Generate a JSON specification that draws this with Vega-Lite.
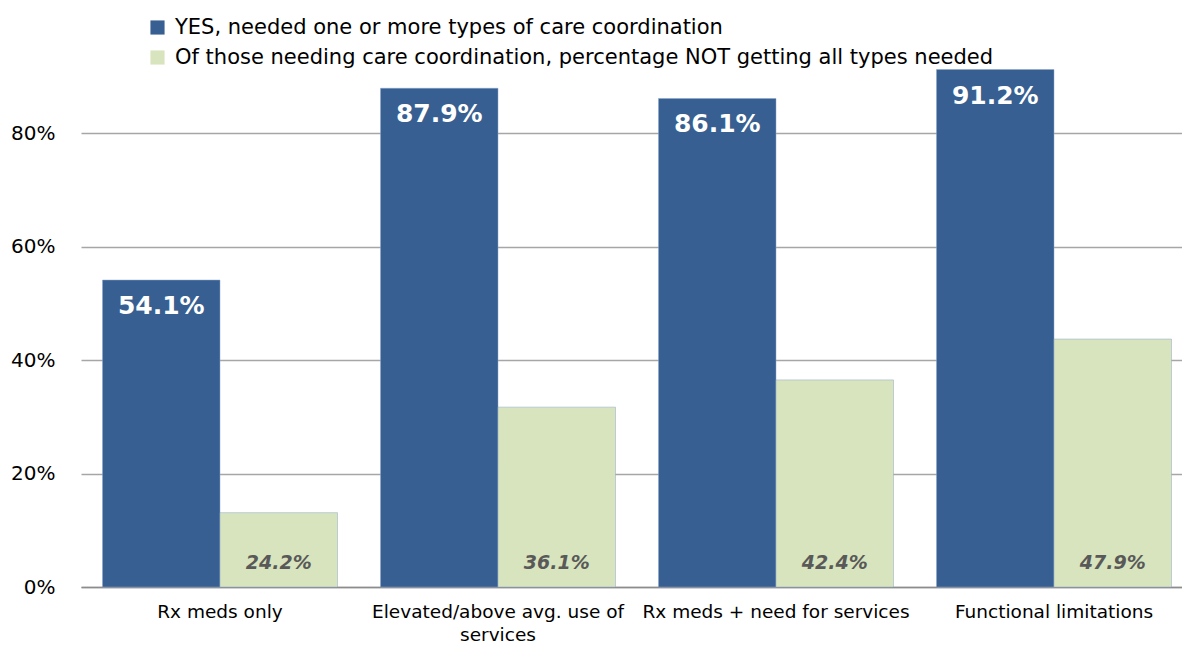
{
  "$schema": "https://vega.github.io/schema/vega-lite/v6.json",
  "width": 1101,
  "height": 522,
  "autosize": "none",
  "padding": {"left": 81, "top": 65, "right": 0, "bottom": 58},
  "background": "white",
  "config": {
    "view": {"stroke": null},
    "font": "DejaVu Sans"
  },
  "data": {
    "values": [
      {"category": "Rx meds only", "series": "YES, needed one or more types of care  coordination", "value": 0.541, "label": "54.1%"},
      {"category": "Rx meds only", "series": "Of those needing care coordination, percentage NOT getting all types needed", "value": 0.131, "label": "24.2%"},
      {"category": "Elevated/above avg. use of services", "series": "YES, needed one or more types of care  coordination", "value": 0.879, "label": "87.9%"},
      {"category": "Elevated/above avg. use of services", "series": "Of those needing care coordination, percentage NOT getting all types needed", "value": 0.317, "label": "36.1%"},
      {"category": "Rx meds + need for services", "series": "YES, needed one or more types of care  coordination", "value": 0.861, "label": "86.1%"},
      {"category": "Rx meds + need for services", "series": "Of those needing care coordination, percentage NOT getting all types needed", "value": 0.365, "label": "42.4%"},
      {"category": "Functional limitations", "series": "YES, needed one or more types of care  coordination", "value": 0.912, "label": "91.2%"},
      {"category": "Functional limitations", "series": "Of those needing care coordination, percentage NOT getting all types needed", "value": 0.437, "label": "47.9%"}
    ]
  },
  "encoding": {
    "x": {
      "field": "category", "type": "nominal", "sort": null,
      "scale": {"paddingInner": 0, "paddingOuter": 0, "range": [0, 1112]},
      "axis": {
        "title": null, "labelAngle": 0, "domain": true, "domainColor": "#8c8c8c", "domainWidth": 1.5,
        "ticks": false, "labelFontSize": 18.5, "labelColor": "#000000", "labelPadding": 15,
        "labelLineHeight": 23, "labelFont": "DejaVu Sans", "labelLimit": 500,
        "labelExpr": "datum.label == 'Elevated/above avg. use of services' ? ['Elevated/above avg. use of', 'services'] : datum.label"
      }
    },
    "xOffset": {
      "field": "series", "type": "nominal", "sort": null,
      "scale": {"paddingInner": 0, "paddingOuter": 0.183}
    },
    "y": {
      "field": "value", "type": "quantitative",
      "scale": {"domain": [0, 0.92], "nice": false},
      "axis": {
        "title": null, "format": ".0%", "values": [0, 0.2, 0.4, 0.6, 0.8],
        "domain": false, "ticks": false, "labelFontSize": 20, "labelColor": "#000000",
        "labelFont": "DejaVu Sans",
        "labelPadding": 26, "grid": true, "gridColor": "#a6a6a6", "gridWidth": 1.5
      }
    }
  },
  "layer": [
    {
      "mark": {"type": "bar", "stroke": "#8aa4c8", "strokeWidth": 0.5},
      "encoding": {
        "color": {
          "field": "series", "type": "nominal", "sort": null,
          "scale": {"range": ["#375f91", "#d7e4bd"]},
          "legend": {
            "title": null, "orient": "none", "legendX": 66, "legendY": -48,
            "direction": "vertical", "symbolType": "square", "symbolSize": 200,
            "symbolStrokeWidth": 0, "labelFontSize": 21, "labelColor": "#000000",
            "labelFont": "DejaVu Sans",
            "rowPadding": 8, "padding": 0, "labelOffset": 7, "labelLimit": 1000
          }
        }
      }
    },
    {
      "transform": [{"filter": "datum.series == 'YES, needed one or more types of care  coordination'"}],
      "mark": {"type": "text", "color": "white", "font": "DejaVu Sans", "fontWeight": "bold", "fontSize": 25, "baseline": "middle", "dy": 26},
      "encoding": {"text": {"field": "label"}}
    },
    {
      "transform": [{"filter": "datum.series != 'YES, needed one or more types of care  coordination'"}],
      "mark": {"type": "text", "color": "#595959", "font": "DejaVu Sans", "fontWeight": "bold", "fontStyle": "italic", "fontSize": 19, "baseline": "middle", "dy": -24},
      "encoding": {"text": {"field": "label"}, "y": {"datum": 0, "type": "quantitative"}}
    }
  ]
}
